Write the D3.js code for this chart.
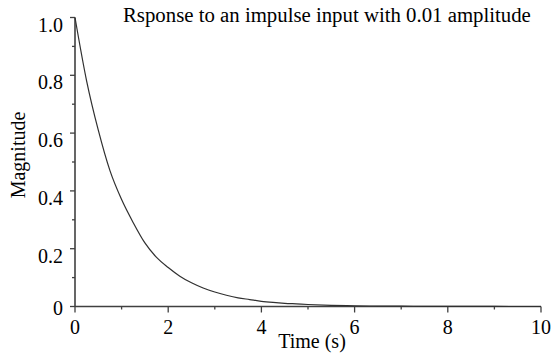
<!DOCTYPE html>
<html>
<head>
<meta charset="utf-8">
<script src="https://cdn.jsdelivr.net/npm/d3@7"></script>
<style>
  body { margin: 0; background: #fff; }
  text { font-family: "Liberation Serif", "Times New Roman", serif; fill: #000; }
</style>
</head>
<body>
<script>
// impulse response, values
var times = [0, 0.25, 0.5, 0.75, 1, 1.25, 1.5, 1.75, 2, 2.25, 2.5, 2.75, 3, 3.25, 3.5, 3.75,
             4, 4.25, 4.5, 4.75, 5, 5.5, 6, 6.5, 7, 7.5, 8, 9, 10];
var magnitude = [1.0, 0.78, 0.61, 0.47, 0.37, 0.29, 0.22, 0.17, 0.135, 0.105, 0.082, 0.064, 0.05, 0.039, 0.030, 0.024,
                 0.018, 0.014, 0.011, 0.009, 0.007, 0.004, 0.0025, 0.0015, 0.001, 0.0006, 0.0003, 0.0001, 0];
var xTicks = [0, 2, 4, 6, 8, 10];
var yTicks = [0, 0.2, 0.4, 0.6, 0.8, 1.0];
var xMinor = [1, 3, 5, 7, 9];
var yMinor = [0.1, 0.3, 0.5, 0.7, 0.9];

var title = "Rsponse to an impulse input with 0.01 amplitude";

var width = 559, height = 356;
var margin = {left: 75, right: 18, top: 17.5, bottom: 49.5};

var svg = d3.select("body").append("svg")
            .attr("width", width)
            .attr("height", height);

var x = d3.scaleLinear().domain([0, 10]).range([margin.left, width - margin.right]);
var y = d3.scaleLinear().domain([0, 1]).range([height - margin.bottom, margin.top]);

var axisColor = "#404040";

// axes lines
svg.append("line")
   .attr("x1", x(0)).attr("x2", x(10))
   .attr("y1", y(0)).attr("y2", y(0))
   .attr("stroke", axisColor).attr("stroke-width", 1.6);
svg.append("line")
   .attr("x1", x(0)).attr("x2", x(0))
   .attr("y1", y(0)).attr("y2", y(1))
   .attr("stroke", axisColor).attr("stroke-width", 1.6);

// x ticks
svg.selectAll(".xmaj").data(xTicks).enter().append("line")
   .attr("x1", function(d){return x(d);}).attr("x2", function(d){return x(d);})
   .attr("y1", y(0)).attr("y2", y(0) + 6)
   .attr("stroke", axisColor).attr("stroke-width", 1.3);
svg.selectAll(".xmin").data(xMinor).enter().append("line")
   .attr("x1", function(d){return x(d);}).attr("x2", function(d){return x(d);})
   .attr("y1", y(0)).attr("y2", y(0) + 3)
   .attr("stroke", axisColor).attr("stroke-width", 1.3);

svg.selectAll(".xlab").data(xTicks).enter().append("text")
   .attr("x", function(d){return Math.min(x(d), width - 11);})
   .attr("y", 334)
   .attr("text-anchor", "middle")
   .style("font-size", "20px")
   .text(function(d){return d;});

// y ticks
svg.selectAll(".ymaj").data(yTicks).enter().append("line")
   .attr("x1", x(0) - 5).attr("x2", x(0))
   .attr("y1", function(d){return y(d);}).attr("y2", function(d){return y(d);})
   .attr("stroke", axisColor).attr("stroke-width", 1.3);
svg.selectAll(".ymin").data(yMinor).enter().append("line")
   .attr("x1", x(0) - 3).attr("x2", x(0))
   .attr("y1", function(d){return y(d);}).attr("y2", function(d){return y(d);})
   .attr("stroke", axisColor).attr("stroke-width", 1.3);

svg.selectAll(".ylab").data(yTicks).enter().append("text")
   .attr("x", 63)
   .attr("y", function(d){return d === 0 ? y(d) + 8 : y(d) + 14;})
   .attr("text-anchor", "end")
   .style("font-size", "20px")
   .text(function(d){return d === 0 ? "0" : d3.format(".1f")(d);});

// curve
var line = d3.line()
             .x(function(d, i){return x(times[i]);})
             .y(function(d){return y(d);})
             .curve(d3.curveMonotoneX);

svg.append("path")
   .attr("d", line(magnitude))
   .attr("fill", "none")
   .attr("stroke", "#303030")
   .attr("stroke-width", 1.2);

// labels
svg.append("text")
   .attr("x", 123).attr("y", 22)
   .style("font-family", "'Liberation Serif', serif")
   .style("font-size", "20.8px")
   .text(title);

svg.append("text")
   .attr("x", 312).attr("y", 348)
   .attr("text-anchor", "middle")
   .style("font-size", "20px")
   .text("Time (s)");

svg.append("text")
   .attr("transform", "translate(25,155) rotate(-90)")
   .attr("text-anchor", "middle")
   .style("font-size", "20px")
   .text("Magnitude");
</script>
</body>
</html>
